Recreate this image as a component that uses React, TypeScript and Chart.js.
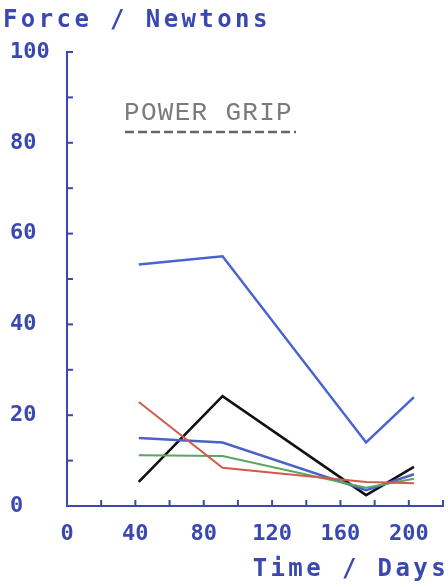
import React, { useEffect, useRef } from "react";
import { Chart, registerables } from "chart.js";

Chart.register(...registerables);

const days = [42, 91, 175, 203];
const upperBlue = [53.2, 55, 14, 24];
const lowerBlue = [15, 14, 3.5, 7];
const green = [11.2, 11, 4, 6];
const red = [22.9, 8.4, 5.3, 5];
const black = [5.3, 24.2, 2.4, 8.6];

const yTitle = "Force / Newtons";
const xTitle = "Time / Days";
const legendLabel = "POWER GRIP";

const AXIS = "#3a48b0";
const MONO = "'DejaVu Sans Mono', monospace";

const toPts = (ys: number[]) => days.map((d, i) => ({ x: d, y: ys[i] }));

const decor = {
  id: "decor",
  afterDraw(chart: any) {
    const { ctx, chartArea, scales } = chart;
    const xs = scales.x;
    const ys = scales.y;
    ctx.save();
    ctx.strokeStyle = AXIS;
    ctx.lineWidth = 2;
    for (let v = 0; v <= 100; v += 10) {
      const py = ys.getPixelForValue(v);
      ctx.beginPath();
      ctx.moveTo(chartArea.left, py);
      ctx.lineTo(chartArea.left + 6, py);
      ctx.stroke();
    }
    for (let v = 20; v <= 220; v += 20) {
      const px = xs.getPixelForValue(v);
      ctx.beginPath();
      ctx.moveTo(px, chartArea.bottom);
      ctx.lineTo(px, chartArea.bottom - 6);
      ctx.stroke();
    }
    ctx.fillStyle = AXIS;
    ctx.font = `bold 24px ${MONO}`;
    (ctx as any).letterSpacing = "3.4px";
    ctx.textAlign = "left";
    ctx.textBaseline = "alphabetic";
    ctx.fillText(yTitle, 3, 27);
    ctx.textAlign = "right";
    ctx.fillText(xTitle, 449, 576);
    ctx.fillStyle = "#7a7a7a";
    ctx.font = "26px 'Liberation Mono', monospace";
    (ctx as any).letterSpacing = "1.3px";
    ctx.textAlign = "left";
    ctx.fillText(legendLabel, 124, 120);
    (ctx as any).letterSpacing = "0px";
    ctx.strokeStyle = "#666";
    ctx.lineWidth = 2.5;
    ctx.setLineDash([9, 4]);
    ctx.beginPath();
    ctx.moveTo(125, 132);
    ctx.lineTo(296, 132);
    ctx.stroke();
    ctx.restore();
  },
};

export default function App() {
  const ref = useRef<HTMLCanvasElement>(null);
  useEffect(() => {
    const mk = (ys: number[], color: string, w = 2) => ({
      data: toPts(ys),
      borderColor: color,
      backgroundColor: color,
      borderWidth: w,
      pointRadius: 0,
      tension: 0,
      fill: false,
    });
    const chart = new Chart(ref.current!, {
      type: "line",
      data: {
        datasets: [
          mk(upperBlue, "#4a62d2", 2.5),
          mk(red, "#d25a4c", 2),
          mk(green, "#5aa55f", 2),
          mk(lowerBlue, "#4a62c8", 2.5),
          mk(black, "#111111", 2.6),
        ],
      },
      options: {
        animation: false,
        responsive: false,
        maintainAspectRatio: false,
        layout: { padding: { top: 52, right: 5, left: 10, bottom: 0 } },
        plugins: { legend: { display: false }, tooltip: { enabled: false } },
        scales: {
          x: {
            type: "linear",
            min: 0,
            max: 220,
            afterFit: (s: any) => {
              s.height = 81;
              s.paddingLeft = 0;
              s.paddingRight = 0;
            },
            grid: { drawOnChartArea: false, drawTicks: false },
            border: { display: true, color: AXIS, width: 2 },
            ticks: {
              stepSize: 20,
              autoSkip: false,
              maxRotation: 0,
              minRotation: 0,
              padding: 15,
              color: AXIS,
              font: { family: MONO, size: 22, weight: "bold" },
              callback: (v: any) => (v % 40 === 0 && v <= 200 ? String(v) : ""),
            },
          },
          y: {
            min: 0,
            max: 100,
            afterFit: (s: any) => {
              s.width = 57;
              s.paddingTop = 0;
              s.paddingBottom = 0;
            },
            grid: { drawOnChartArea: false, drawTicks: false },
            border: { display: true, color: AXIS, width: 2 },
            ticks: {
              stepSize: 10,
              autoSkip: false,
              crossAlign: "far",
              color: AXIS,
              font: { family: MONO, size: 22, weight: "bold" },
              callback: (v: any) => (v % 20 === 0 ? String(v) : ""),
            },
          },
        },
      },
      plugins: [decor],
    } as any);
    return () => chart.destroy();
  }, []);
  return (
    <div style={{ position: "absolute", left: 0, top: 0, width: 448, height: 587, background: "#fff" }}>
      <canvas ref={ref} width={448} height={587} style={{ width: 448, height: 587 }} />
    </div>
  );
}
